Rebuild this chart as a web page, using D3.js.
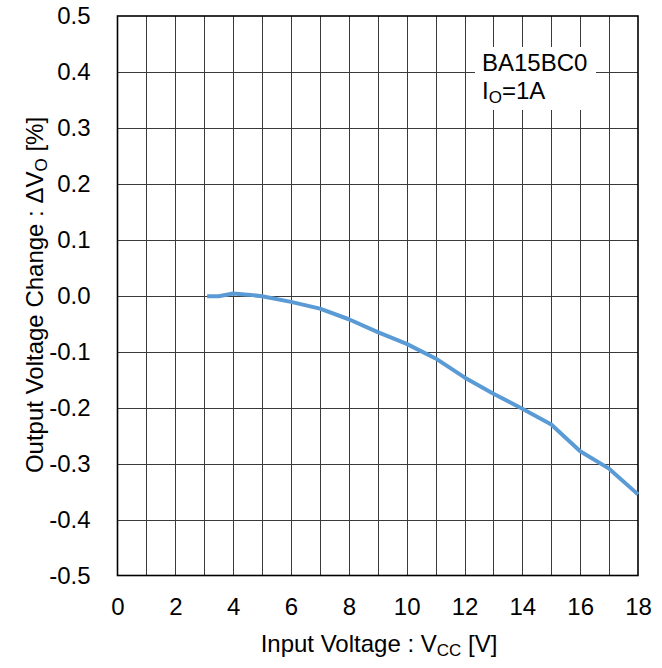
<!DOCTYPE html>
<html><head><meta charset="utf-8">
<script src="https://cdn.jsdelivr.net/npm/d3@7"></script>
<style>body{margin:0;background:#fff}svg{display:block}text{font-family:"Liberation Sans",Arial,sans-serif;fill:#000}</style>
</head><body><svg id="c" width="662" height="668"></svg>
<script>
const vcc = [3.1, 3.5, 4, 4.5, 5, 6, 7, 8, 9, 10, 11, 12, 13, 14, 15, 16, 17, 18];
const dvo = [-0.001, -0.001, 0.004, 0.002, -0.001, -0.011, -0.023, -0.042, -0.065, -0.086, -0.112, -0.146, -0.175, -0.202, -0.230, -0.278, -0.309, -0.355];
const xTicks = [0, 2, 4, 6, 8, 10, 12, 14, 16, 18];
const yTicks = [0.5, 0.4, 0.3, 0.2, 0.1, 0.0, -0.1, -0.2, -0.3, -0.4, -0.5];

const FS = 24, SFS = 17;
const svg = d3.select("#c");
const L = 117.5, R = 638, T = 16, B = 575.5;
const x = d3.scaleLinear().domain([0, 18]).range([L, R]);
const y = d3.scaleLinear().domain([-0.5, 0.5]).range([B, T]);

const g = svg.append("g");
g.selectAll(".vg").data(d3.range(1, 18)).join("line")
  .attr("x1", d => Math.round(x(d)) + 0.5).attr("x2", d => Math.round(x(d)) + 0.5)
  .attr("y1", T).attr("y2", B).attr("stroke", "#3a3a3a").attr("stroke-width", 1);
g.selectAll(".hg").data(d3.range(-4, 5).map(d => d / 10)).join("line")
  .attr("y1", d => Math.round(y(d)) + 0.5).attr("y2", d => Math.round(y(d)) + 0.5)
  .attr("x1", L).attr("x2", R).attr("stroke", "#3a3a3a").attr("stroke-width", 1);

// legend box (white background)
svg.append("rect").attr("x", 475).attr("y", 47).attr("width", 121).attr("height", 63).attr("fill", "#fff");
svg.append("text").attr("x", 482).attr("y", 71).attr("font-size", FS).text("BA15BC0");
const lt2 = svg.append("text").attr("x", 482).attr("y", 99).attr("font-size", FS);
lt2.append("tspan").text("I");
lt2.append("tspan").attr("font-size", SFS).attr("dy", 4).text("O");
lt2.append("tspan").attr("dy", -4).text("=1A");

// frame
svg.append("rect").attr("x", L).attr("y", T).attr("width", R - L).attr("height", B - T)
  .attr("fill", "none").attr("stroke", "#000").attr("stroke-width", 1.6);

const fmtY = d => (d < -1e-9 ? "-" : "") + Math.abs(d).toFixed(1);
const xa = svg.append("g").attr("transform", `translate(0,${B})`)
  .call(d3.axisBottom(x).tickValues(xTicks).tickSize(0).tickPadding(22).tickFormat(d3.format("d")));
xa.select(".domain").remove();
xa.selectAll("text").attr("font-size", FS).attr("font-family", "Liberation Sans, Arial, sans-serif").attr("fill", "#000");

const ya = svg.append("g").attr("transform", `translate(${L},0)`)
  .call(d3.axisLeft(y).tickValues(yTicks).tickSize(0).tickPadding(27).tickFormat(fmtY));
ya.select(".domain").remove();
ya.selectAll("text").attr("font-size", FS).attr("font-family", "Liberation Sans, Arial, sans-serif").attr("fill", "#000");

svg.append("path").datum(vcc.map((v, i) => [v, dvo[i]]))
  .attr("d", d3.line().x(d => x(d[0])).y(d => y(d[1])))
  .attr("fill", "none").attr("stroke", "#5B9BD5").attr("stroke-width", 4).attr("stroke-linejoin", "round");

const xt = svg.append("text").attr("x", 379).attr("y", 652).attr("text-anchor", "middle").attr("font-size", FS);
xt.append("tspan").text("Input Voltage : V");
xt.append("tspan").attr("font-size", SFS).attr("dy", 4).text("CC");
xt.append("tspan").attr("dy", -4).text(" [V]");

const yt = svg.append("text").attr("transform", "translate(43,295) rotate(-90)").attr("text-anchor", "middle").attr("font-size", FS);
yt.append("tspan").text("Output Voltage Change : ΔV");
yt.append("tspan").attr("font-size", SFS).attr("dy", 4).text("O");
yt.append("tspan").attr("dy", -4).text(" [%]");
</script></body></html>
